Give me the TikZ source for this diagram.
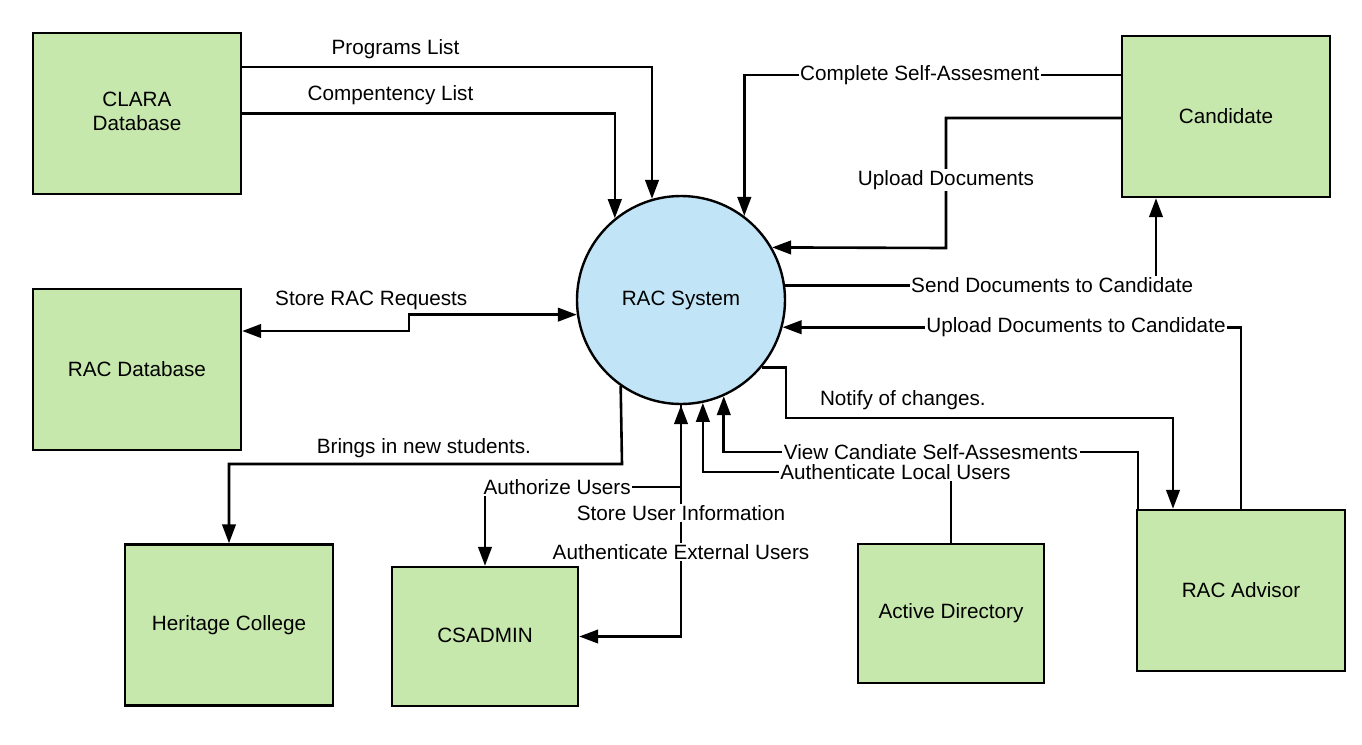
\documentclass[tikz,border=0pt]{standalone}
\usepackage{fontspec}
\setmainfont{Liberation Sans}
\usetikzlibrary{arrows.meta}
\definecolor{boxgreen}{RGB}{199,232,172}
\definecolor{sysblue}{RGB}{193,228,246}
\tikzset{
 ent/.style={draw=black, line width=1.2pt, fill=boxgreen, align=center, inner sep=0pt},
 bigent/.style={ent, minimum width=104pt, minimum height=80.5pt},
 smallent/.style={ent, minimum width=93pt, minimum height=69.5pt},
 proc/.style={circle, draw=black, line width=1.2pt, fill=sysblue, minimum size=104pt, inner sep=0pt},
 flow/.style={line width=1.3pt, -{Triangle[length=9.5pt,width=6.75pt]}},
 biflow/.style={line width=1.3pt, {Triangle[length=9.5pt,width=6.75pt]}-{Triangle[length=9.5pt,width=6.75pt]}},
 lbl/.style={fill=white, inner sep=0.8pt},
 lblfree/.style={inner sep=0.8pt},
}
\begin{document}
\begin{tikzpicture}[x=0.5pt, y=-0.5pt, font=\fontsize{10.35}{12.4}\selectfont]
\useasboundingbox (0,0) rectangle (1362,745);

% entities
\node[bigent] (clara) at (137,113.5) {\raisebox{1.5pt}{\begin{tabular}{@{}c@{}}CLARA\\Database\end{tabular}}};
\node[bigent] (racdb) at (137,369.5) {\raisebox{1pt}{RAC Database}};
\node[bigent] (cand) at (1226,116.5) {\raisebox{1pt}{Candidate}};
\node[bigent] (herit) at (229,625) {\raisebox{0.5pt}{Heritage College}};
\node[smallent] (csadmin) at (485,636.5) {\raisebox{1.5pt}{CSADMIN}};
\node[smallent] (ad) at (951,613.5) {\raisebox{0.5pt}{Active Directory}};
\node[bigent] (advisor) at (1241,590.5) {\raisebox{1pt}{RAC Advisor}};
\node[proc] (rac) at (681,300) {\raisebox{-1pt}{RAC System}};

% CLARA flows
\draw[flow] ([yshift=23.25pt]clara.east) -| node[lblfree, pos=0.187, yshift=9pt] {Programs List} (rac.106.8);
\draw[flow] (clara.east) -| node[lblfree, pos=0.199, yshift=9pt] {Compentency List} (rac.129.4);

% Candidate flows
\draw[flow] ([yshift=20.75pt]cand.west) -| node[lbl, pos=0.267] {Complete Self-Assesment} (rac.53.4);
\draw[flow] ([yshift=-0.75pt]cand.west) -| node[lbl, pos=0.738] {Upload Documents} (946,248) -- (rac.30);
\draw[flow] (rac.8.85) -| node[lbl, pos=0.36] {Send Documents to Candidate} ([xshift=-35pt]cand.south);

% RAC Advisor flows
\draw[flow] (advisor.north) |- node[lbl, pos=0.68] {Upload Documents to Candidate} (rac.-15.62);
\draw[flow] (rac.-40.4) -| (786,418) -| node[lblfree, pos=0.151, yshift=9pt] {Notify of changes.} ([xshift=-34pt]advisor.north);
\draw[flow] ([xshift=-51.5pt]advisor.north) -- (1138,452) -| node[lbl, pos=0.25] {View Candiate Self-Assesments} (rac.-66.2);

% Active Directory
\draw[flow] (ad.north) -- (951,472) -| node[lbl, pos=0.112] {Authenticate Local Users} (rac.-78.35);

% RAC Database
\draw[biflow] ([yshift=19.25pt]racdb.east) -- node[lblfree, pos=0.774, yshift=15.5pt] {Store RAC Requests} (409,331) |- (rac.188.3);

% Heritage College
\draw[flow] (rac.235.4) -- (622,464) -| node[lblfree, pos=0.252, yshift=8pt] {Brings in new students.} (herit.north);

% CSADMIN
\draw[biflow] (rac.south) |- node[lbl, pos=0.233] {Store User Information} node[lbl, pos=0.317] {Authenticate External Users} (csadmin.east);
\draw[flow] (rac.south) -- (681,487) -| node[lbl, pos=0.316] {Authorize Users} (csadmin.north);
\end{tikzpicture}
\end{document}
